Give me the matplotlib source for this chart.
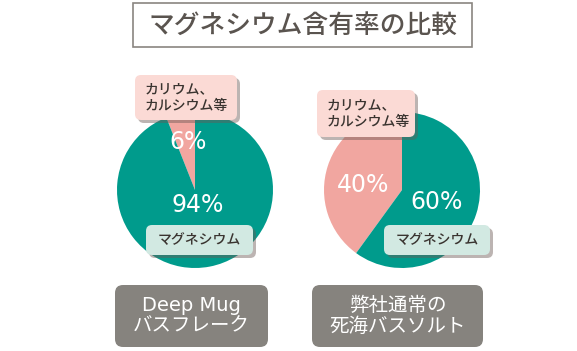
import matplotlib.pyplot as plt
from matplotlib.patches import FancyBboxPatch, Rectangle

plt.rcParams['font.family'] = ['Noto Sans CJK JP', 'DejaVu Sans']

# data
title = "マグネシウム含有率の比較"
products = ["Deep Mug\nバスフレーク", "弊社通常の\n死海バスソルト"]
other_share = [6, 40]
mg_share = [94, 60]
other_label = "カリウム、\nカルシウム等"
mg_label = "マグネシウム"

teal = "#009b8c"
pink = "#f1a6a0"
pink_box = "#fbdad5"
mint_box = "#d2e9e2"
gray_box = "#86837e"
text_dark = "#3a3430"

W, H = 577, 351
fig = plt.figure(figsize=(W / 100, H / 100), dpi=100)
ax = fig.add_axes([0, 0, 1, 1])


def Y(y):
    return H - y


def box(x0, y0, x1, y1, fc, ec="none", r=6, shadow=False, z=3):
    if shadow:
        ax.add_patch(FancyBboxPatch((x0 + 3, Y(y1) - 3), x1 - x0, y1 - y0,
                                    boxstyle=f"round,pad=0,rounding_size={r}",
                                    fc="#6b5a55", ec="none", alpha=0.45, zorder=z - 0.5))
    ax.add_patch(FancyBboxPatch((x0, Y(y1)), x1 - x0, y1 - y0,
                                boxstyle=f"round,pad=0,rounding_size={r}",
                                fc=fc, ec=ec, zorder=z))


# title box
ax.add_patch(Rectangle((133, Y(47)), 339, 44, fc="white", ec="#8a8580", lw=1.2))
ax.text(303, Y(25), title, ha="center", va="center", fontsize=18.5,
        fontweight="medium", color="#5a544f")

centers = [(195, 190), (402, 190)]
radius = 78
pct_pos = [((188, 142), (198, 205)), ((363, 185), (437, 202))]
other_boxes = [(135, 75, 237, 120), (317, 90, 415, 137)]
mint_boxes = [(146, 225, 253, 255), (384, 225, 490, 255)]
gray_boxes = [(115, 285, 268, 347), (312, 285, 483, 347)]

pct_font = dict(family=["DejaVu Sans"], fontsize=17,
                color="white", ha="center", va="center")

for i in range(2):
    cx, cy = centers[i]
    ax.pie([other_share[i], mg_share[i]], colors=[pink, teal], startangle=90,
           counterclock=True, center=(cx, Y(cy)), radius=radius, frame=True,
           wedgeprops=dict(linewidth=0))
    (ox, oy), (mx, my) = pct_pos[i]
    ax.text(ox, Y(oy), f"{other_share[i]}%", **pct_font)
    ax.text(mx, Y(my), f"{mg_share[i]}%", **pct_font)

    x0, y0, x1, y1 = other_boxes[i]
    box(x0, y0, x1, y1, pink_box, shadow=True, z=4)
    ax.text(x0 + 10, (Y(y0) + Y(y1)) / 2, other_label, ha="left", va="center",
            fontsize=10, fontweight="medium", color=text_dark, linespacing=1.25, zorder=5)

    x0, y0, x1, y1 = mint_boxes[i]
    box(x0, y0, x1, y1, mint_box, shadow=True, z=4)
    ax.text((x0 + x1) / 2, (Y(y0) + Y(y1)) / 2, mg_label, ha="center", va="center",
            fontsize=10, fontweight="medium", color=text_dark, zorder=5)

    x0, y0, x1, y1 = gray_boxes[i]
    box(x0, y0, x1, y1, gray_box, r=8, z=4)
    ax.text((x0 + x1) / 2, (Y(y0) + Y(y1)) / 2, products[i], ha="center", va="center",
            fontsize=14, family=["DejaVu Sans", "Noto Sans CJK JP"],
            color="white", linespacing=1.1, zorder=5)

ax.set_xlim(0, W)
ax.set_ylim(0, H)
ax.set_aspect("auto")
ax.axis("off")

fig.savefig("out.png", dpi=100)
